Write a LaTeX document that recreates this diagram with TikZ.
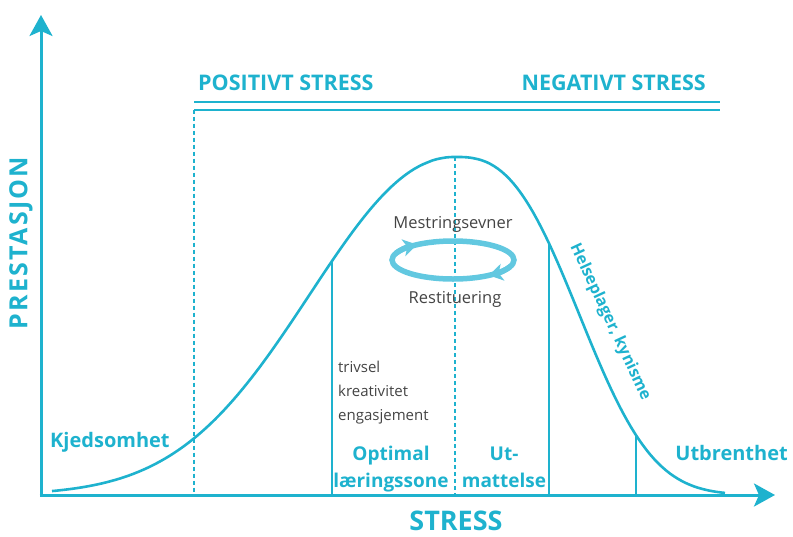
\documentclass[tikz,border=0pt]{standalone}
\usepackage{fontspec}
\setmainfont{Open Sans}
\usepackage{xcolor}
\usetikzlibrary{positioning, arrows.meta}
\definecolor{stresscyan}{RGB}{30,178,206}
\definecolor{loopcyan}{RGB}{98,200,224}
\definecolor{textgrey}{RGB}{68,68,68}

\begin{document}
\begin{tikzpicture}[x=1pt, y=-1pt,
    axisline/.style={stresscyan, line width=3pt},
    zoneline/.style={stresscyan, line width=2pt},
    guideline/.style={stresscyan, line width=1.2pt, dash pattern=on 4pt off 3pt},
    bluelabel/.style={text=stresscyan, font=\bfseries\fontsize{20}{27}\selectfont, inner sep=0pt},
    greylabel/.style={text=textgrey, font=\fontsize{15}{24}\selectfont, inner sep=0pt},
    looptip/.style={loopcyan, line width=5.5pt, -{Stealth[length=14pt, width=17pt, inset=4pt]}}]
        \useasboundingbox (0,0) rectangle (793,536);
        % Axes
        \coordinate (origin) at (41,495);
        \coordinate (ytop) at (41,15);
        \coordinate (xend) at (775,495);
        \draw[axisline, -{Stealth[length=21pt, width=23pt, inset=5pt]}] (origin) -- (ytop);
        \draw[axisline, -{Stealth[length=21pt, width=23pt, inset=5pt]}] ([xshift=-1.5pt]origin) -- (xend);
        \node[bluelabel, font=\bfseries\fontsize{25}{30}\selectfont\addfontfeature{LetterSpace=9}, rotate=90] (prestasjon) at (21,243) {PRESTASJON};
        \node[bluelabel, font=\bfseries\fontsize{27}{32}\selectfont, anchor=base] (stress) at (456,530) {STRESS};
        % Headings with double rule
        \node[bluelabel, font=\bfseries\fontsize{21.5}{24}\selectfont, anchor=base west] (posstress) at (198,90) {POSITIVT STRESS};
        \node[bluelabel, font=\bfseries\fontsize{21.5}{24}\selectfont, anchor=base east] (negstress) at (706,90) {NEGATIVT STRESS};
        \coordinate (ruleA) at (194,101.5);
        \coordinate (ruleB) at (720,101.5);
        \coordinate (ruleC) at (194,109.5);
        \coordinate (ruleD) at (720,109.5);
        \coordinate (dashfoot) at (194,495);
        \draw[stresscyan, line width=2pt] (ruleA) -- (ruleB);
        \draw[stresscyan, line width=2pt] (ruleC) -- (ruleD);
        \draw[guideline] (ruleC) -- (dashfoot);
        % Curve: wide rise, steeper fall
        \draw[stresscyan, line width=2.6pt, line join=round]
            plot[domain=52:455, samples=90] (\x, {495-338*exp(-((455.001-\x)/198)^2.1)})
            -- plot[domain=455:725, samples=70] (\x, {495-338*exp(-((\x-454.999)/147.7)^2.7)});
        % Zones
        \coordinate (peak) at (455,157);
        \coordinate (peakfoot) at (455,495);
        \coordinate (optA) at (332,261);
        \coordinate (optB) at (332,495);
        \coordinate (utA) at (549,243);
        \coordinate (utB) at (549,495);
        \coordinate (brA) at (636,435);
        \coordinate (brB) at (636,495);
        \draw[guideline] (peak) -- (peakfoot);
        \draw[zoneline] (optA) -- (optB);
        \draw[zoneline] (utA) -- (utB);
        \draw[zoneline] (brA) -- (brB);
        % Zone labels
        \node[bluelabel, anchor=base west] (kjedsomhet) at (50,447) {Kjedsomhet};
        \node[bluelabel, font=\bfseries\fontsize{19}{27}\selectfont, align=center, anchor=base] (optimal) at (391,487) {Optimal\\l\ae ringssone};
        \node[bluelabel, font=\bfseries\fontsize{19}{27}\selectfont, align=center, anchor=base] (utmattelse) at (504,487) {Ut-\\mattelse};
        \node[bluelabel, anchor=base east] (utbrent) at (788,460) {Utbrenthet};
        \node[bluelabel, font=\bfseries\fontsize{16}{20}\selectfont, rotate=-65] (helse) at (610,322) {Helseplager, kynisme};
        \node[greylabel, align=left, anchor=base west] (trivsel) at (338,420) {trivsel\\kreativitet\\engasjement};
        % Coping loop
        \node[greylabel, font=\fontsize{16.5}{20}\selectfont, anchor=base] (mestring) at (453,228) {Mestringsevner};
        \node[greylabel, font=\fontsize{16.5}{20}\selectfont, anchor=base] (restitusjon) at (455,303) {Restituering};
        \coordinate (loopc) at (453,260);
        \draw[loopcyan, line width=5.5pt] (loopc) ellipse [x radius=61, y radius=19];
        \draw[looptip] ([shift={(200:61 and 19)}]loopc) arc[start angle=200, end angle=234, x radius=61, y radius=19];
        \draw[looptip] ([shift={(20:61 and 19)}]loopc) arc[start angle=20, end angle=54, x radius=61, y radius=19];
    \end{tikzpicture}
\end{document}
